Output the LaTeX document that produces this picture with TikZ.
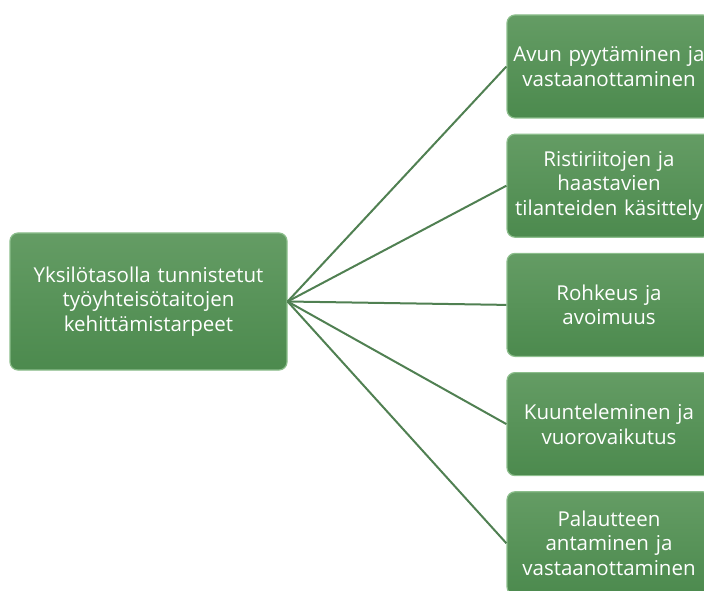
\documentclass[tikz,border=0pt]{standalone}
\usepackage{fontspec}
\setmainfont{Open Sans}
\usetikzlibrary{positioning}
\definecolor{boxgreen}{RGB}{76,138,78}
\definecolor{boxtop}{RGB}{100,156,100}
\definecolor{rimgreen}{RGB}{140,190,140}
\definecolor{linegreen}{RGB}{80,128,82}

\begin{document}
\begin{tikzpicture}[
        x=1pt, y=1pt,
        node distance=15pt,
        topic/.style={draw=rimgreen, line width=1.2pt, rounded corners=8pt,
            top color=boxtop, bottom color=boxgreen, text=white, align=center,
            inner xsep=0pt, font=\fontsize{20.5}{24.5}\selectfont},
        root/.style={topic, minimum width=277pt, minimum height=137pt, text width=277pt},
        leaf/.style={topic, minimum width=204pt, minimum height=103pt, text width=204pt},
        link/.style={draw=linegreen, line width=2pt}
    ]
  \useasboundingbox (0,0) rectangle (704,590);

  % Nodes
  \node[root] (needs) at (148.5,288.5) {Yksilötasolla tunnistetut\\ työyhteisötaitojen\\ kehittämistarpeet};
  \node[leaf] (help) at (609,523.5) {Avun pyytäminen ja\\ vastaanottaminen};
  \node[leaf, below=of help] (conflict) {Ristiriitojen ja\\ haastavien\\ tilanteiden käsittely};
  \node[leaf, below=of conflict] (courage) {Rohkeus ja\\ avoimuus};
  \node[leaf, below=of courage] (listen) {Kuunteleminen ja\\ vuorovaikutus};
  \node[leaf, below=of listen] (feedback) {Palautteen\\ antaminen ja\\ vastaanottaminen};

  % Links
  \foreach \leafname in {help,conflict,courage,listen,feedback}
    \draw[link] (needs.east) -- (\leafname.west);
\end{tikzpicture}
\end{document}
